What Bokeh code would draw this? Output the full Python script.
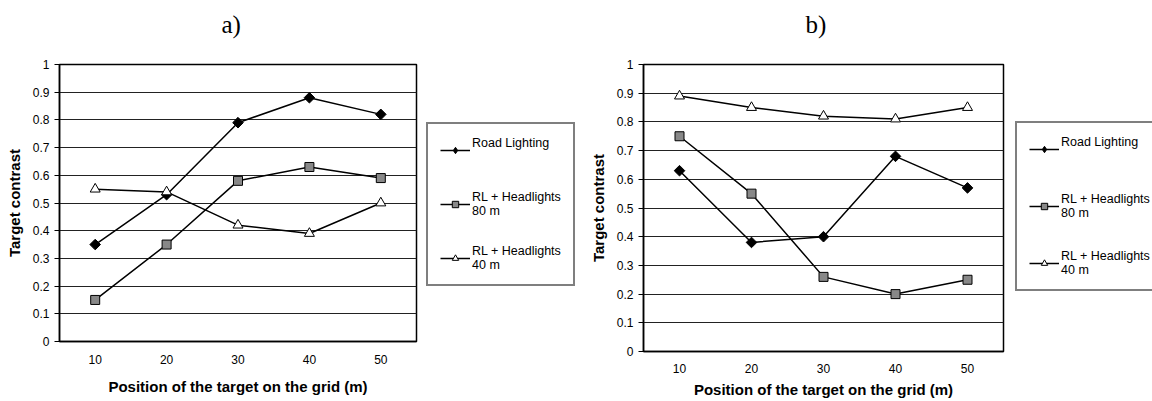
import math
from bokeh.plotting import figure
from bokeh.models import Range1d, FixedTicker, NumeralTickFormatter, Legend, LegendItem, Title
from bokeh.layouts import row
from bokeh.embed import file_html
from bokeh.resources import INLINE

positions = [10, 20, 30, 40, 50]
y_ticks = [0, 0.1, 0.2, 0.3, 0.4, 0.5, 0.6, 0.7, 0.8, 0.9, 1.0]
series_names = ["Road Lighting\n ", "RL + Headlights\n80 m", "RL + Headlights\n40 m"]

a_road = [0.35, 0.53, 0.79, 0.88, 0.82]
a_rl80 = [0.15, 0.35, 0.58, 0.63, 0.59]
a_rl40 = [0.55, 0.54, 0.42, 0.39, 0.50]

b_road = [0.63, 0.38, 0.40, 0.68, 0.57]
b_rl80 = [0.75, 0.55, 0.26, 0.20, 0.25]
b_rl40 = [0.89, 0.85, 0.82, 0.81, 0.85]

SANS = "Liberation Sans"
H = 401


def draw_series(p, road, rl80, rl40, in_chart=True):
    l1 = p.line(positions, road, line_color="black", line_width=1.5)
    if in_chart:
        m1 = p.scatter(positions, road, marker="square", angle=math.pi / 4, size=7.5,
                       fill_color="black", line_color="black")
    else:
        m1 = p.scatter(positions, road, marker="diamond", size=12,
                       fill_color="black", line_color="black")
    l2 = p.line(positions, rl80, line_color="black", line_width=1.5)
    m2 = p.scatter(positions, rl80, marker="square", size=9,
                   fill_color="#888888", line_color="black", line_width=1)
    l3 = p.line(positions, rl40, line_color="black", line_width=1.5)
    m3 = p.scatter(positions, rl40, marker="triangle", size=10,
                   fill_color="white", line_color="black", line_width=1)
    return [(l1, m1), (l2, m2), (l3, m3)]


def make_chart(title, road, rl80, rl40, width, left_b, bottom_b,
               lab_standoff, title_standoff):
    p = figure(width=width, height=H, title=None,
               min_border_left=left_b, min_border_right=4,
               min_border_top=64, min_border_bottom=bottom_b,
               x_range=Range1d(5, 55), y_range=Range1d(0, 1),
               output_backend="svg", toolbar_location=None)
    p.frame_align = False
    # spacer between frame and the panel label
    p.add_layout(Title(text=" ", text_font_size="1px", standoff=24), "above")
    p.add_layout(Title(text=title, align="left", offset=162, vertical_align="bottom",
                       text_font="Liberation Serif", text_font_size="25px",
                       text_font_style="normal", text_color="black", standoff=0),
                 "above")
    p.outline_line_color = "black"
    p.outline_line_width = 1.5
    p.background_fill_color = "white"
    p.border_fill_color = "white"

    p.xgrid.visible = False
    p.ygrid.ticker = FixedTicker(ticks=y_ticks)
    p.ygrid.grid_line_color = "#222222"
    p.ygrid.grid_line_width = 1

    ya = p.yaxis[0]
    ya.ticker = FixedTicker(ticks=y_ticks)
    ya.formatter = NumeralTickFormatter(format="0.[0]")
    ya.major_tick_out = 5
    ya.major_tick_in = 0
    ya.minor_tick_out = 0
    ya.minor_tick_in = 0
    ya.axis_line_color = "black"
    ya.axis_line_width = 1.5
    ya.major_tick_line_color = "black"
    ya.major_label_text_font = SANS
    ya.major_label_text_font_size = "12px"
    ya.major_label_text_color = "black"
    ya.major_label_standoff = 5
    ya.axis_label = "Target contrast"
    ya.axis_label_text_font = SANS
    ya.axis_label_text_font_size = "15px"
    ya.axis_label_text_font_style = "bold"
    ya.axis_label_text_color = "black"
    ya.axis_label_standoff = 7

    xa = p.xaxis[0]
    xa.ticker = FixedTicker(ticks=positions)
    xa.major_tick_out = 0
    xa.major_tick_in = 0
    xa.minor_tick_out = 0
    xa.minor_tick_in = 0
    xa.axis_line_color = "black"
    xa.axis_line_width = 1.5
    xa.major_label_text_font = SANS
    xa.major_label_text_font_size = "12px"
    xa.major_label_text_color = "black"
    xa.major_label_standoff = lab_standoff
    xa.axis_label = "Position of the target on the grid (m)"
    xa.axis_label_text_font = SANS
    xa.axis_label_text_font_size = "15px"
    xa.axis_label_text_font_style = "bold"
    xa.axis_label_text_color = "black"
    xa.axis_label_standoff = title_standoff

    draw_series(p, road, rl80, rl40, in_chart=True)
    return p


def make_legend(road, rl80, rl40, width, loc, spacing):
    p = figure(width=width, height=H, title=None,
               min_border_left=0, min_border_right=0,
               min_border_top=0, min_border_bottom=0,
               x_range=Range1d(5, 55), y_range=Range1d(0, 1),
               x_axis_location=None, y_axis_location=None,
               output_backend="svg", toolbar_location=None)
    p.frame_align = False
    p.grid.visible = False
    p.outline_line_color = None
    p.background_fill_color = "white"
    p.border_fill_color = "white"
    pairs = draw_series(p, road, rl80, rl40, in_chart=False)
    for ln, mk in pairs:
        ln.visible = False
        mk.visible = False
    legend = Legend(items=[
        LegendItem(label=series_names[i], renderers=list(pairs[i])) for i in range(3)
    ], location=loc, orientation="vertical")
    legend.margin = 0
    legend.padding = 12
    legend.spacing = spacing
    legend.glyph_width = 30
    legend.glyph_height = 16
    legend.label_standoff = 2
    legend.label_text_font = SANS
    legend.label_text_font_size = "12.5px"
    legend.label_text_color = "black"
    legend.border_line_color = "black"
    legend.border_line_width = 2
    legend.background_fill_color = "white"
    legend.background_fill_alpha = 1
    legend.inactive_fill_alpha = 0
    p.add_layout(legend, "center")
    return p


pa = make_chart("a)", a_road, a_rl80, a_rl40, width=420, left_b=59,
                bottom_b=60, lab_standoff=13, title_standoff=11)
la = make_legend(a_road, a_rl80, a_rl40, width=166, loc=(6, 115), spacing=26)
pb = make_chart("b)", b_road, b_rl80, b_rl40, width=421, left_b=57,
                bottom_b=50, lab_standoff=12, title_standoff=5)
lb = make_legend(b_road, b_rl80, b_rl40, width=145, loc=(8, 110), spacing=29)

layout = row(pa, la, pb, lb, spacing=0)
open("out.html", "w").write(file_html(layout, INLINE))
